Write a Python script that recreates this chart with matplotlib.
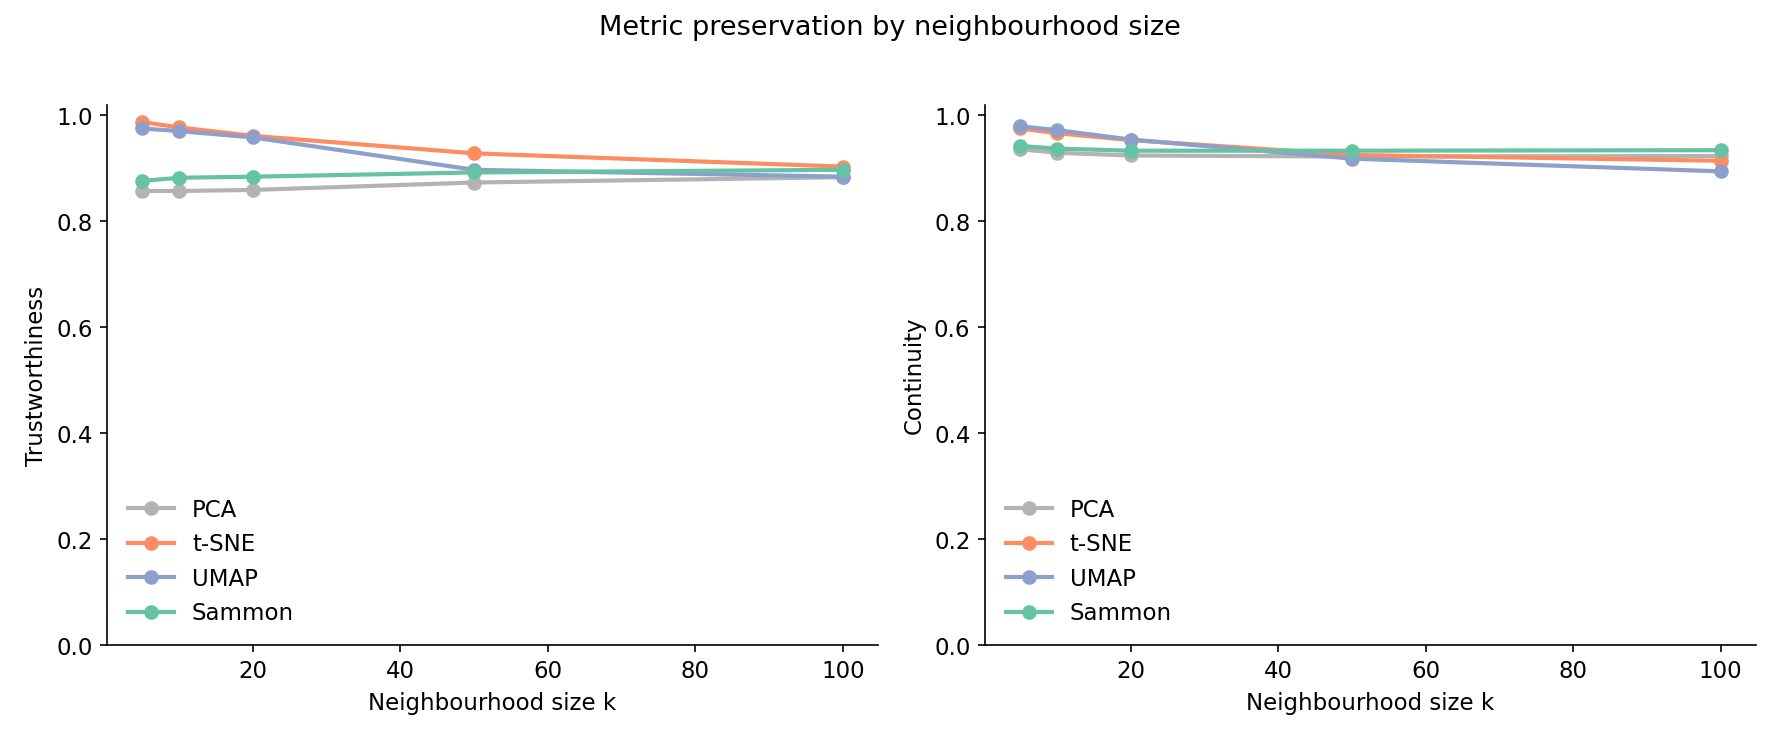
import matplotlib
matplotlib.use("Agg")
import matplotlib.pyplot as plt

k_values = [5, 10, 20, 50, 100]
methods = ["PCA", "t-SNE", "UMAP", "Sammon"]
colors = ["#b3b3b3", "#fc8d62", "#8da0cb", "#66c2a5"]

trust = {
    "PCA": [0.857, 0.857, 0.859, 0.873, 0.883],
    "t-SNE": [0.987, 0.977, 0.961, 0.928, 0.903],
    "UMAP": [0.975, 0.970, 0.958, 0.897, 0.884],
    "Sammon": [0.876, 0.882, 0.884, 0.892, 0.897],
}
cont = {
    "PCA": [0.936, 0.929, 0.924, 0.922, 0.923],
    "t-SNE": [0.975, 0.966, 0.953, 0.925, 0.914],
    "UMAP": [0.979, 0.972, 0.954, 0.918, 0.894],
    "Sammon": [0.942, 0.937, 0.933, 0.933, 0.934],
}

plt.rcParams["font.size"] = 11

fig, axes = plt.subplots(1, 2, figsize=(11.87, 4.93), dpi=150)
for ax, data, ylabel in zip(axes, [trust, cont], ["Trustworthiness", "Continuity"]):
    for m, c in zip(methods, colors):
        ax.plot(k_values, data[m], "-o", color=c, linewidth=2, markersize=6, label=m)
    ax.set_ylim(0, 1.02)
    ax.set_xlabel("Neighbourhood size k")
    ax.set_ylabel(ylabel)
    ax.spines["top"].set_visible(False)
    ax.spines["right"].set_visible(False)
    ax.legend(loc="lower left", frameon=False, fontsize=11)

fig.suptitle("Metric preservation by neighbourhood size", fontsize=13)
fig.tight_layout(rect=(0, 0, 1, 0.96))
fig.savefig("out.png")
